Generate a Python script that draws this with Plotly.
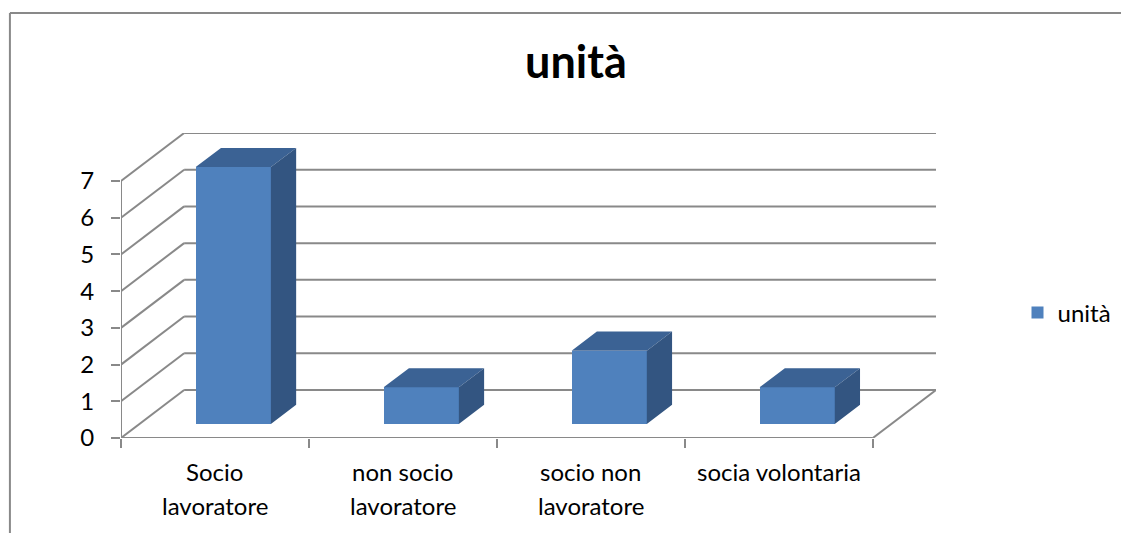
import plotly.graph_objects as go

# --- dati ---
categories = ["Socio lavoratore", "non socio lavoratore", "socio non lavoratore", "socia volontaria"]
label_lines = [["Socio", "lavoratore"], ["non socio", "lavoratore"], ["socio non", "lavoratore"], ["socia volontaria"]]
values = [7, 1, 2, 1]
y_ticks = [0, 1, 2, 3, 4, 5, 6, 7]
series_name = "unità"

# finta prospettiva 3D (unità dati): spostamento della parete di fondo
DX, DY = 0.336, 1.308
Z0, Z1 = 0.29, 0.69      # profondità fronte / retro delle barre
HALF = 0.2               # metà larghezza barra
GRID = "#898989"
FONT = "Lato"
FS = 24

n = len(categories)
ymax = max(y_ticks)


def proj(x, v, z):
    return x + z * DX, v + z * DY


fig = go.Figure()

# --- parete sinistra, fondo e pavimento ---
for v in y_ticks:
    bx, by = proj(0, v, 1)
    fig.add_shape(type="line", x0=0, y0=v, x1=bx, y1=by, layer="below",
                  line=dict(color=GRID, width=2))
    ex, _ = proj(n, v, 1)
    fig.add_shape(type="line", x0=bx, y0=by, x1=ex, y1=by, layer="below",
                  line=dict(color=GRID, width=2))

rx, ry = proj(n, 0, 1)
fig.add_shape(type="line", x0=n, y0=0, x1=rx, y1=ry, layer="below", line=dict(color=GRID, width=2))
fig.add_shape(type="line", x0=0, y0=0, x1=n, y1=0, layer="below", line=dict(color=GRID, width=2))
fig.add_shape(type="line", x0=0, y0=0, x1=0, y1=ymax, layer="below", line=dict(color=GRID, width=2))

# --- facce frontali (barre vere) ---
fig.add_trace(go.Bar(
    x=[i + 0.5 + Z0 * DX for i in range(n)],
    y=values,
    base=Z0 * DY,
    width=2 * HALF,
    name=series_name,
    marker=dict(color="#4F81BD", line=dict(width=0)),
    hoverinfo="skip",
))

# --- facce superiori e laterali ---
top_x, top_y, side_x, side_y = [], [], [], []
for i, v in enumerate(values):
    cx = i + 0.5
    for p in [(cx - HALF, v, Z0), (cx + HALF, v, Z0), (cx + HALF, v, Z1), (cx - HALF, v, Z1), (cx - HALF, v, Z0)]:
        px, py = proj(*p)
        top_x.append(px); top_y.append(py)
    top_x.append(None); top_y.append(None)
    for p in [(cx + HALF, 0, Z0), (cx + HALF, v, Z0), (cx + HALF, v, Z1), (cx + HALF, 0, Z1), (cx + HALF, 0, Z0)]:
        px, py = proj(*p)
        side_x.append(px); side_y.append(py)
    side_x.append(None); side_y.append(None)

fig.add_trace(go.Scatter(x=top_x, y=top_y, mode="lines", fill="toself", fillcolor="#3B6294",
                         line=dict(width=0, color="#3B6294"), showlegend=False, hoverinfo="skip"))
fig.add_trace(go.Scatter(x=side_x, y=side_y, mode="lines", fill="toself", fillcolor="#335581",
                         line=dict(width=0, color="#335581"), showlegend=False, hoverinfo="skip"))

# --- etichette categorie ---
for i, lines in enumerate(label_lines):
    for k, txt in enumerate(lines):
        fig.add_annotation(x=i + 0.5, xref="x", y=0, yref="y domain", yshift=-33 - 34 * k,
                           text=txt, showarrow=False, font=dict(family=FONT, size=FS, color="black"),
                           xanchor="center", yanchor="middle")

# --- cornice ---
fig.add_shape(type="line", xref="paper", yref="paper", x0=-0.1363, x1=-0.1363, y0=-1, y1=1.3934,
              line=dict(color=GRID, width=2))
fig.add_shape(type="line", xref="paper", yref="paper", x0=-0.1363, x1=1.5, y0=1.3934, y1=1.3934,
              line=dict(color=GRID, width=2))

# la pagina ha 8px di margine: figura e margini compensati
fig.update_layout(
    width=1121, height=525,
    margin=dict(l=113, r=189, t=125, b=95),
    plot_bgcolor="white", paper_bgcolor="white",
    font=dict(family=FONT, size=FS, color="black"),
    title=dict(text="<b>unità</b>", font=dict(family=FONT, size=45, color="black"),
               xref="container", x=568 / 1121, xanchor="center",
               yref="container", y=1 - 54 / 525, yanchor="middle"),
    showlegend=True,
    legend=dict(x=1.100, xanchor="left", y=0.41, yanchor="middle",
                font=dict(family=FONT, size=FS, color="black"), bgcolor="rgba(0,0,0,0)"),
    bargap=0,
)

fig.update_xaxes(range=[0, n + DX], tickvals=list(range(n + 1)), ticktext=[""] * (n + 1),
                 ticks="outside", ticklen=9, tickwidth=2, tickcolor=GRID,
                 showgrid=False, zeroline=False, showline=False, fixedrange=True)
fig.update_yaxes(range=[0, ymax + DY], tickvals=y_ticks, ticks="outside", ticklen=9, tickwidth=2,
                 tickcolor=GRID, ticklabelstandoff=12,
                 showgrid=False, zeroline=False, showline=False, fixedrange=True)

fig.write_html("out.html")
